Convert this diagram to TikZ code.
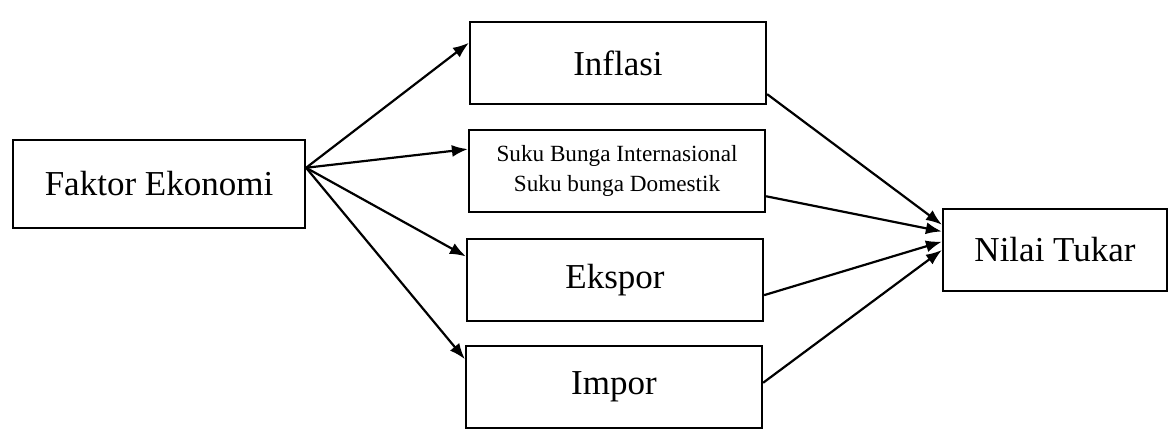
\documentclass[tikz,border=0pt]{standalone}
\usepackage{fontspec}
\setmainfont{Liberation Serif}
\usetikzlibrary{arrows.meta,calc}

\begin{document}
\begin{tikzpicture}[x=0.5pt,y=-0.5pt,
  kotak/.style={draw, line width=1.1pt, minimum width=148pt, minimum height=41pt,
    inner sep=2pt, font=\fontsize{17.5}{21}\selectfont},
  panah/.style={line width=1.1pt, -{Latex[length=8pt,width=6pt]}}]
\useasboundingbox (0,0) rectangle (1170,433);

% kotak-kotak
\node[kotak, minimum width=146pt, minimum height=44pt] (faktor) at (159,184) {Faktor Ekonomi};
\node[kotak] (inflasi) at (618,63) {Inflasi};
\node[kotak, align=center, font=\fontsize{11.6}{15}\selectfont] (suku) at (617,171)
  {Suku Bunga Internasional\\Suku bunga Domestik};
\node[kotak] (ekspor) at (615,280) {Ekspor};
\node[kotak] (impor) at (614,387) {Impor};
\node[kotak, minimum width=112pt] (nilai) at (1055,250) {Nilai Tukar};

\coordinate (faktor-out) at ($(faktor.north east)!0.32!(faktor.south east)$);

% panah
\foreach \n/\a/\b/\c in {inflasi/0.26/0.87/0.2, suku/0.24/0.8/0.28, ekspor/0.22/0.68/0.4, impor/0.17/0.45/0.5}
{
  \draw[panah] (faktor-out) -- ($(\n.north west)!\a!(\n.south west)$);
  \draw[panah] ($(\n.north east)!\b!(\n.south east)$) -- ($(nilai.north west)!\c!(nilai.south west)$);
}

\end{tikzpicture}
\end{document}
